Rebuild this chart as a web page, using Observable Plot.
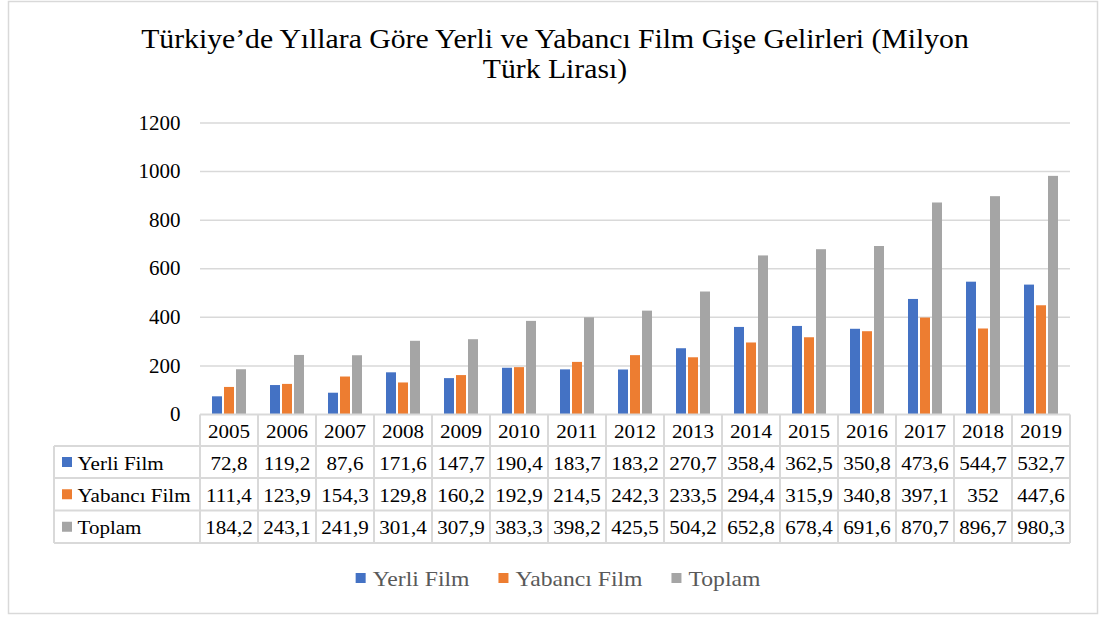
<!DOCTYPE html>
<html>
<head>
<meta charset="utf-8">
<script src="https://cdn.jsdelivr.net/npm/d3@7"></script>
<script src="https://cdn.jsdelivr.net/npm/@observablehq/plot@0.6"></script>
<style>
  html, body { margin: 0; padding: 0; background: #fff; }
  svg { display: block; }
  .sx-start, .sx-middle, .sx-end { transform-box: fill-box; }
  .sx-start { transform-origin: left center; }
  .sx-middle { transform-origin: center center; }
  .sx-end { transform-origin: right center; }
</style>
</head>
<body>
<div id="chart"></div>
<script>
const titleLines = ["Türkiye’de Yıllara Göre Yerli ve Yabancı Film Gişe Gelirleri (Milyon", "Türk Lirası)"];
const years = ["2005","2006","2007","2008","2009","2010","2011","2012","2013","2014","2015","2016","2017","2018","2019"];
const seriesNames = ["Yerli Film", "Yabancı Film", "Toplam"];
const seriesColors = ["#4472C4", "#ED7D31", "#A5A5A5"];
const yerli   = [72.8, 119.2, 87.6, 171.6, 147.7, 190.4, 183.7, 183.2, 270.7, 358.4, 362.5, 350.8, 473.6, 544.7, 532.7];
const yabanci = [111.4, 123.9, 154.3, 129.8, 160.2, 192.9, 214.5, 242.3, 233.5, 294.4, 315.9, 340.8, 397.1, 352, 447.6];
const toplam  = [184.2, 243.1, 241.9, 301.4, 307.9, 383.3, 398.2, 425.5, 504.2, 652.8, 678.4, 691.6, 870.7, 896.7, 980.3];
const yTicks = [0, 200, 400, 600, 800, 1000, 1200];

const seriesValues = [yerli, yabanci, toplam];
const data = [];
years.forEach((yr, i) => seriesNames.forEach((s, j) => data.push({year: yr, series: s, value: seriesValues[j][i]})));

const FONT = "'Liberation Serif', 'Times New Roman', serif";
const GRID = "#d9d9d9";

const plot = Plot.plot({
  width: 1100,
  height: 617,
  marginTop: 122.5,
  marginBottom: 203,
  marginLeft: 200,
  marginRight: 30,
  style: {fontFamily: FONT, background: "#fff"},
  fx: {domain: years, padding: 0, axis: null, label: null},
  x: {domain: seriesNames, paddingInner: 0.2, paddingOuter: 0.87, axis: null},
  y: {domain: [0, 1200], axis: null},
  color: {domain: seriesNames, range: seriesColors},
  marks: [
    Plot.ruleY(yTicks.filter(d => d > 0), {stroke: GRID, strokeWidth: 1.5}),
    Plot.axisY({ticks: yTicks, tickSize: 0, tickPadding: 20, fontSize: 21, fontFamily: FONT, label: null, tickFormat: d => String(d), fill: "#000", ariaLabel: "yticks"}),
    Plot.barY(data, {fx: "year", x: "series", y: "value", fill: "series"})
  ]
});
document.getElementById("chart").appendChild(plot);

const svg = d3.select(plot);
svg.attr("font-family", FONT);
// mimic the slightly wide glyphs of the reference
svg.selectAll('g[aria-label="yticks"] text').attr("class", "sx-end").style("transform", "scaleX(1.13)");

function stext(parent, x, y, text, size, sx, anchor, fill) {
  return parent.append("text").attr("x", x).attr("y", y).attr("text-anchor", anchor)
    .attr("dominant-baseline", "central").attr("font-family", FONT).attr("font-size", size)
    .attr("fill", fill).attr("class", "sx-" + anchor).style("transform", `scaleX(${sx})`).text(text);
}

const fx = plot.scale("fx");
const y = plot.scale("y");
const color = plot.scale("color");
const bw = fx.bandwidth;
const x0 = fx.apply(years[0]);
const x1 = fx.apply(years[years.length - 1]) + bw;
const base = y.apply(0) + 0.5;
const rowH = [31.5, 32, 32.5, 32.5];
const rowTops = [base];
rowH.forEach(h => rowTops.push(rowTops[rowTops.length - 1] + h));
const labelLeft = 54;

// outer chart border
svg.append("rect").attr("x", 8.5).attr("y", 1.5).attr("width", 1089).attr("height", 612)
  .attr("fill", "none").attr("stroke", GRID).attr("stroke-width", 1.5);

// title
titleLines.forEach((t, i) => stext(svg, 555, 39 + i * 30, t, 27, 1.1, "middle", "#000"));

// table
const tbl = svg.append("g").attr("stroke", GRID).attr("stroke-width", 2);
tbl.append("line").attr("x1", x0).attr("x2", x1).attr("y1", rowTops[0]).attr("y2", rowTops[0]);
for (let r = 1; r < rowTops.length; r++)
  tbl.append("line").attr("x1", labelLeft).attr("x2", x1).attr("y1", rowTops[r]).attr("y2", rowTops[r]);
tbl.append("line").attr("x1", labelLeft).attr("x2", labelLeft).attr("y1", rowTops[1]).attr("y2", rowTops[4]);
years.forEach(yr => {
  const xx = fx.apply(yr);
  tbl.append("line").attr("x1", xx).attr("x2", xx).attr("y1", rowTops[0]).attr("y2", rowTops[4]);
});
tbl.append("line").attr("x1", x1).attr("x2", x1).attr("y1", rowTops[0]).attr("y2", rowTops[4]);

const txt = svg.append("g");
years.forEach((yr, i) => {
  const cx = fx.apply(yr) + bw / 2;
  stext(txt, cx, (rowTops[0] + rowTops[1]) / 2 + 1, yr, 19.5, 1.08, "middle", "#000");
  seriesValues.forEach((vals, j) => {
    stext(txt, cx, (rowTops[j + 1] + rowTops[j + 2]) / 2 + 1, String(vals[i]).replace(".", ","), 19.5, 1.08, "middle", "#000");
  });
});
seriesNames.forEach((s, j) => {
  const cy = (rowTops[j + 1] + rowTops[j + 2]) / 2;
  svg.append("rect").attr("x", 62).attr("y", cy - 5).attr("width", 10).attr("height", 10).attr("fill", color.apply(s));
  stext(svg, 77.5, cy + 1, s, 19.5, 1.08, "start", "#000");
});

// legend
const lg = svg.append("g");
const items = seriesNames.map(s => {
  const g = lg.append("g");
  g.append("rect").attr("width", 10).attr("height", 10).attr("y", -5).attr("fill", color.apply(s));
  const t = stext(g, 17, 1, s, 21.5, 1.1, "start", "#595959");
  return {g, w: 17 + t.node().getComputedTextLength() * 1.1};
});
const gap = 29;
const total = d3.sum(items, d => d.w) + gap * (items.length - 1);
let lx = 558 - total / 2;
items.forEach(it => { it.g.attr("transform", `translate(${lx},578)`); lx += it.w + gap; });
</script>
</body>
</html>
